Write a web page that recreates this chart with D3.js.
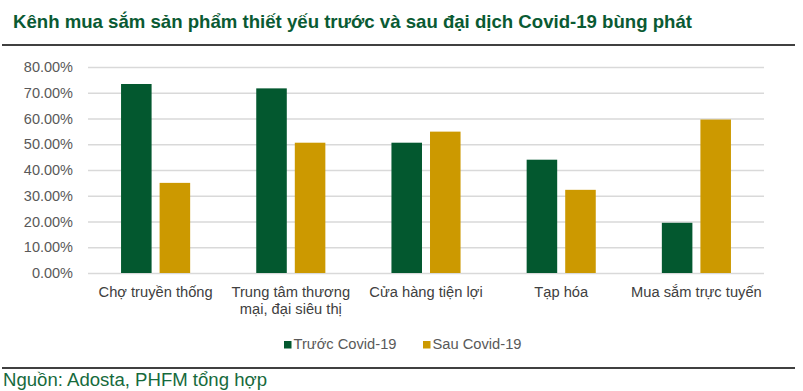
<!DOCTYPE html>
<html>
<head>
<meta charset="utf-8">
<script src="https://cdn.jsdelivr.net/npm/d3@7"></script>
<style>
  body { margin: 0; background: #fff; }
  svg { display: block; font-family: "Liberation Sans", Arial, sans-serif; }
</style>
</head>
<body>
<div id="chart"></div>
<script>
// ---- data ----
const categories = [
  ["Chợ truyền thống"],
  ["Trung tâm thương", "mại, đại siêu thị"],
  ["Cửa hàng tiện lợi"],
  ["Tạp hóa"],
  ["Mua sắm trực tuyến"]
];
const seriesNames = ["Trước Covid-19", "Sau Covid-19"];
const truocValues = [0.734, 0.717, 0.506, 0.440, 0.195];
const sauValues   = [0.350, 0.506, 0.549, 0.323, 0.596];
const yTicks = [0, 0.1, 0.2, 0.3, 0.4, 0.5, 0.6, 0.7, 0.8];
const colors = ["#03582f", "#cc9900"];

// ---- layout ----
const width = 803, height = 391;
const margin = { top: 67, right: 39, bottom: 118, left: 88 };

const svg = d3.select("#chart").append("svg")
  .attr("width", width)
  .attr("height", height);

// title + rules
svg.append("text")
  .attr("x", 13)
  .attr("y", 28)
  .attr("fill", "#0a5a33")
  .attr("textLength", 679)
  .attr("lengthAdjust", "spacingAndGlyphs")
  .style("font-size", "18.5px")
  .style("font-weight", "bold")
  .text("Kênh mua sắm sản phẩm thiết yếu trước và sau đại dịch Covid-19 bùng phát");

svg.append("line")
  .attr("x1", 2).attr("x2", 795)
  .attr("y1", 45).attr("y2", 45)
  .attr("stroke", "#000").attr("stroke-width", 1.5);

svg.append("line")
  .attr("x1", 2).attr("x2", 795)
  .attr("y1", 368).attr("y2", 368)
  .attr("stroke", "#000").attr("stroke-width", 1.5);

svg.append("text")
  .attr("x", 3)
  .attr("y", 386)
  .attr("fill", "#166a3c")
  .attr("textLength", 264)
  .attr("lengthAdjust", "spacingAndGlyphs")
  .style("font-size", "17.5px")
  .text("Nguồn: Adosta, PHFM tổng hợp");

// ---- scales ----
const x0 = d3.scaleBand()
  .domain(d3.range(categories.length))
  .range([margin.left, width - margin.right])
  .paddingInner(0).paddingOuter(0);

const x1 = d3.scaleBand()
  .domain(seriesNames)
  .range([0, x0.bandwidth()])
  .paddingInner(0.208)
  .paddingOuter(0.857);

const y = d3.scaleLinear()
  .domain([0, 0.8])
  .range([height - margin.bottom, margin.top]);

// grid
const yAxis = d3.axisLeft(y)
  .tickValues(yTicks)
  .tickSize(-(width - margin.left - margin.right))
  .tickPadding(15)
  .tickFormat(d3.format(".2%"));

const gy = svg.append("g")
  .attr("transform", `translate(${margin.left},0)`)
  .call(yAxis);
gy.select(".domain").remove();
gy.selectAll(".tick line")
  .attr("stroke", "#d9d9d9")
  .attr("stroke-width", 1.3);
gy.selectAll(".tick text")
  .attr("fill", "#595959")
  .style("font-size", "14.5px")
  .style("font-family", "'Liberation Sans', Arial, sans-serif");

// bars
const seriesValues = [truocValues, sauValues];
const groups = svg.append("g").selectAll("g")
  .data(categories)
  .join("g")
  .attr("transform", (d, i) => `translate(${x0(i)},0)`);

groups.selectAll("rect")
  .data((d, i) => seriesNames.map((s, k) => ({ key: s, value: seriesValues[k][i], color: colors[k] })))
  .join("rect")
  .attr("x", d => x1(d.key))
  .attr("width", x1.bandwidth())
  .attr("y", d => y(d.value))
  .attr("height", d => y(0) - y(d.value))
  .attr("fill", d => d.color);

// category labels
const xAxis = d3.axisBottom(x0).tickSize(0).tickFormat("");
const gx = svg.append("g")
  .attr("transform", `translate(0,${y(0)})`)
  .call(xAxis);
gx.select(".domain").remove();

gx.selectAll(".tick").each(function (d) {
  const t = d3.select(this).append("text")
    .attr("fill", "#404040")
    .attr("text-anchor", "middle")
    .style("font-size", "14.7px")
    .style("font-family", "'Liberation Sans', Arial, sans-serif");
  categories[d].forEach((line, j) => {
    t.append("tspan")
      .attr("x", 0)
      .attr("y", 24 + j * 17)
      .text(line);
  });
});

// legend
const legendX = [284, 423];
const legend = svg.append("g").selectAll("g")
  .data(seriesNames)
  .join("g")
  .attr("transform", (d, i) => `translate(${legendX[i]},342)`);

legend.append("rect")
  .attr("x", 0).attr("y", -1)
  .attr("width", 7.5).attr("height", 7.5)
  .attr("fill", (d, i) => colors[i]);

legend.append("text")
  .attr("x", 9.5)
  .attr("y", 7)
  .attr("fill", "#595959")
  .style("font-size", "14.7px")
  .text(d => d);
</script>
</body>
</html>
